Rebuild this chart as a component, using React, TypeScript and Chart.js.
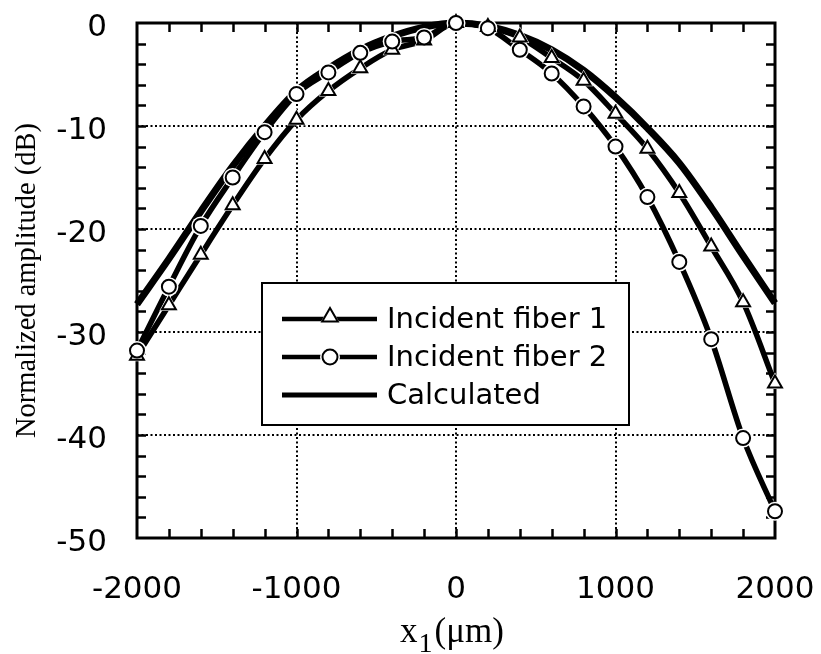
import React, { useEffect, useRef } from "react";
import { Chart, registerables } from "chart.js";

Chart.register(...registerables);

// ---- data ----
const xPositions = [-2000, -1800, -1600, -1400, -1200, -1000, -800, -600, -400, -200, 0, 200, 400, 600, 800, 1000, 1200, 1400, 1600, 1800, 2000];
const fiber1 = [-32.3, -27.4, -22.5, -17.7, -13.2, -9.4, -6.6, -4.4, -2.6, -1.7, 0, -0.4, -1.4, -3.4, -5.6, -8.8, -12.2, -16.5, -21.7, -27.1, -35.0];
const fiber2 = [-31.8, -25.6, -19.7, -15.0, -10.6, -6.9, -4.8, -2.9, -1.8, -1.4, 0, -0.5, -2.6, -4.9, -8.1, -12.0, -16.9, -23.2, -30.7, -40.3, -47.4];
const calculated = [-27.3, -22.9, -18.3, -13.9, -10.0, -6.6, -4.4, -2.6, -1.3, -0.4, 0, -0.3, -1.2, -2.6, -4.6, -7.2, -10.2, -13.6, -17.9, -22.6, -27.2];

const xTicks = [-2000, -1000, 0, 1000, 2000];
const yTicks = [0, -10, -20, -30, -40, -50];
const xMinorTicks = [-1800, -1600, -1400, -1200, -1000, -800, -600, -400, -200, 0, 200, 400, 600, 800, 1000, 1200, 1400, 1600, 1800];
const yMinorTicks = [-2, -4, -6, -8, -10, -12, -14, -16, -18, -20, -22, -24, -26, -28, -30, -32, -34, -36, -38, -40, -42, -44, -46, -48];
const legendLabels = ["Incident fiber 1", "Incident fiber 2", "Calculated"];
const yTitle = "Normalized amplitude (dB)";
const xTitleMain = "x";
const xTitleSub = "1";
const xTitleUnit = "(\u03BCm)";

const TICK_FONT = "DejaVu Sans";
const SERIF = "Liberation Serif";

function drawTriangle(ctx: CanvasRenderingContext2D, x: number, y: number, r: number) {
  ctx.beginPath();
  for (let k = 0; k < 3; k++) {
    const a = (k * 2 * Math.PI) / 3;
    const px = x + Math.sin(a) * r;
    const py = y - Math.cos(a) * r;
    if (k === 0) ctx.moveTo(px, py);
    else ctx.lineTo(px, py);
  }
  ctx.closePath();
}

const decorPlugin = {
  id: "decor",
  beforeDatasetsDraw(chart: any) {
    const { ctx, chartArea: ca, scales } = chart;
    const xs = scales.x;
    const ys = scales.y;
    ctx.save();
    ctx.strokeStyle = "#000";
    ctx.lineWidth = 2.5;
    const tl = 9;
    ctx.beginPath();
    for (const v of xMinorTicks) {
      const px = Math.round(xs.getPixelForValue(v)) + 0.5;
      ctx.moveTo(px, ca.bottom);
      ctx.lineTo(px, ca.bottom - tl);
      ctx.moveTo(px, ca.top);
      ctx.lineTo(px, ca.top + tl);
    }
    for (const v of yMinorTicks) {
      const py = Math.round(ys.getPixelForValue(v)) + 0.5;
      ctx.moveTo(ca.left, py);
      ctx.lineTo(ca.left + tl, py);
      ctx.moveTo(ca.right, py);
      ctx.lineTo(ca.right - tl, py);
    }
    ctx.stroke();
    ctx.lineWidth = 3;
    ctx.strokeRect(ca.left, ca.top, ca.right - ca.left, ca.bottom - ca.top);
    ctx.restore();
  },
  afterDatasetsDraw(chart: any) {
    const { ctx, chartArea: ca } = chart;
    ctx.save();
    // white halos around markers, then markers again
    const markerSets = [0, 1];
    for (const di of markerSets) {
      const meta = chart.getDatasetMeta(di);
      const ds = chart.data.datasets[di];
      for (const el of meta.data) {
        ctx.fillStyle = "#fff";
        if (ds.pointStyle === "triangle") {
          drawTriangle(ctx, el.x, el.y, ds.pointRadius + 3);
        } else {
          ctx.beginPath();
          ctx.arc(el.x, el.y, ds.pointRadius + 2.5, 0, Math.PI * 2);
        }
        ctx.fill();
      }
    }
    for (const di of markerSets) {
      const meta = chart.getDatasetMeta(di);
      for (const el of meta.data) el.draw(ctx, chart.chartArea);
    }

    // legend box
    const lx = ca.left + 125;
    const ly = ca.top + 260;
    const lw = 367;
    const lh = 142;
    ctx.fillStyle = "#fff";
    ctx.fillRect(lx, ly, lw, lh);
    ctx.strokeStyle = "#000";
    ctx.lineWidth = 2;
    ctx.strokeRect(lx, ly, lw, lh);
    const rows = [36, 74, 112];
    const x1 = lx + 20;
    const x2 = lx + 115;
    const mx = lx + 68;
    ctx.font = `29px "${TICK_FONT}"`;
    ctx.textBaseline = "middle";
    ctx.textAlign = "left";
    for (let i = 0; i < 3; i++) {
      const ry = ly + rows[i];
      ctx.strokeStyle = "#000";
      ctx.lineWidth = i === 2 ? 5 : 4.5;
      ctx.beginPath();
      ctx.moveTo(x1, ry);
      ctx.lineTo(x2, ry);
      ctx.stroke();
      if (i === 0) {
        ctx.fillStyle = "#fff";
        drawTriangle(ctx, mx, ry - 2, 11);
        ctx.fill();
        ctx.lineWidth = 2;
        drawTriangle(ctx, mx, ry - 2, 9);
        ctx.fill();
        ctx.stroke();
      } else if (i === 1) {
        ctx.fillStyle = "#fff";
        ctx.beginPath();
        ctx.arc(mx, ry, 10, 0, Math.PI * 2);
        ctx.fill();
        ctx.lineWidth = 2;
        ctx.beginPath();
        ctx.arc(mx, ry, 7.5, 0, Math.PI * 2);
        ctx.fill();
        ctx.stroke();
      }
      ctx.fillStyle = "#000";
      ctx.fillText(legendLabels[i], lx + 125, ry + 1);
    }

    // x axis title with subscript
    const cx = (ca.left + ca.right) / 2 - 4;
    ctx.fillStyle = "#000";
    ctx.textBaseline = "alphabetic";
    ctx.font = `35px "${SERIF}"`;
    const wMain = ctx.measureText(xTitleMain).width;
    const wUnit = ctx.measureText(xTitleUnit).width;
    ctx.font = `28px "${SERIF}"`;
    const wSub = ctx.measureText(xTitleSub).width;
    const total = wMain + wSub + 3 + wUnit;
    let tx = cx - total / 2;
    ctx.font = `35px "${SERIF}"`;
    ctx.fillText(xTitleMain, tx, 642);
    tx += wMain + 1;
    ctx.font = `28px "${SERIF}"`;
    ctx.fillText(xTitleSub, tx, 652);
    tx += wSub + 2;
    ctx.font = `35px "${SERIF}"`;
    ctx.fillText(xTitleUnit, tx, 642);
    ctx.restore();
  },
};

export default function App() {
  const ref = useRef<HTMLCanvasElement | null>(null);
  useEffect(() => {
    if (!ref.current) return;
    const mk = (vals: number[]) => xPositions.map((x, i) => ({ x, y: vals[i] }));
    const chart = new Chart(ref.current, {
      type: "line",
      data: {
        datasets: [
          {
            label: legendLabels[0],
            data: mk(fiber1),
            borderColor: "#000",
            borderWidth: 5.5,
            pointStyle: "triangle",
            pointRadius: 8,
            pointBackgroundColor: "#fff",
            pointBorderColor: "#000",
            pointBorderWidth: 2,
            cubicInterpolationMode: "monotone",
            clip: false,
          } as any,
          {
            label: legendLabels[1],
            data: mk(fiber2),
            borderColor: "#000",
            borderWidth: 5.5,
            pointStyle: "circle",
            pointRadius: 7,
            pointBackgroundColor: "#fff",
            pointBorderColor: "#000",
            pointBorderWidth: 2,
            cubicInterpolationMode: "monotone",
            clip: false,
          } as any,
          {
            label: legendLabels[2],
            data: mk(calculated),
            borderColor: "#000",
            borderWidth: 7,
            pointRadius: 0,
            cubicInterpolationMode: "monotone",
            clip: false,
          } as any,
        ],
      },
      options: {
        animation: false,
        responsive: false,
        devicePixelRatio: 1,
        layout: { padding: { left: 0, top: 23, right: 46, bottom: 0 } },
        plugins: { legend: { display: false }, tooltip: { enabled: false } },
        scales: {
          x: {
            type: "linear",
            min: -2000,
            max: 2000,
            afterFit(s: any) {
              s.height = 116;
              s.paddingLeft = 0;
              s.paddingRight = 0;
            },
            afterBuildTicks(s: any) {
              s.ticks = xTicks.map((v) => ({ value: v }));
            },
            ticks: {
              color: "#000",
              font: { family: TICK_FONT, size: 31 },
              padding: 33,
              maxRotation: 0,
              autoSkip: false,
              callback: (v: any) => String(v),
            },
            grid: {
              drawTicks: false,
              color: (c: any) => (c.tick && (c.tick.value === -2000 || c.tick.value === 2000) ? "rgba(0,0,0,0)" : "#000"),
              lineWidth: 2,
            },
            border: { display: false, dash: [2, 2.5] },
            title: { display: false },
          },
          y: {
            type: "linear",
            min: -50,
            max: 0,
            afterFit(s: any) {
              s.width = 137;
              s.paddingTop = 0;
              s.paddingBottom = 0;
            },
            afterBuildTicks(s: any) {
              s.ticks = yTicks.map((v) => ({ value: v }));
            },
            ticks: {
              color: "#000",
              font: { family: TICK_FONT, size: 31 },
              padding: 30,
              labelOffset: 5,
              autoSkip: false,
              callback: (v: any) => String(v),
            },
            grid: {
              drawTicks: false,
              color: (c: any) => (c.tick && (c.tick.value === 0 || c.tick.value === -50) ? "rgba(0,0,0,0)" : "#000"),
              lineWidth: 2,
            },
            border: { display: false, dash: [2, 2.5] },
            title: {
              display: true,
              text: yTitle,
              color: "#000",
              font: { family: SERIF, size: 28.5, weight: "normal" },
              padding: { top: 10, bottom: 0 },
            },
          },
        },
      },
      plugins: [decorPlugin as any],
    });
    return () => chart.destroy();
  }, []);
  return (
    <div style={{ position: "fixed", left: 0, top: 0, width: 821, height: 654, background: "#fff" }}>
      <canvas ref={ref} width={821} height={654} style={{ width: 821, height: 654, display: "block" }} />
    </div>
  );
}
